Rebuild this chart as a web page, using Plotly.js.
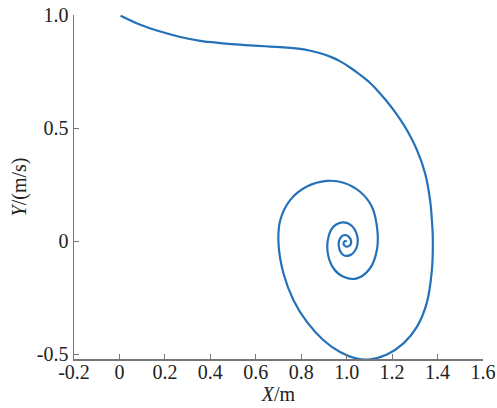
<!DOCTYPE html>
<html>
<head>
<meta charset="utf-8">
<script src="https://cdn.plot.ly/plotly-3.0.1.min.js"></script>
<style>
  html, body { margin: 0; padding: 0; background: #fff; }
  #graph { width: 497px; height: 408px; }
</style>
</head>
<body>
<div id="graph"></div>
<script>
// phase trajectory
var xs = [0.005, 0.092, 0.180, 0.268, 0.356, 0.444, 0.510, 0.576, 0.642, 0.708, 0.752, 0.796, 0.840, 0.884,
  0.930, 0.972, 1.015, 1.059, 1.100, 1.133, 1.170, 1.206, 1.237, 1.265, 1.309, 1.345, 1.367, 1.375, 1.379,
  1.375, 1.352, 1.309, 1.250, 1.177, 1.103, 1.045, 0.971,
  0.898, 0.825, 0.766, 0.722, 0.700, 0.708, 0.752, 0.825, 0.913, 0.986, 1.059, 1.111, 1.135, 1.133, 1.103,
  1.045, 0.986, 0.942, 0.917, 0.920, 0.942, 0.986, 1.023, 1.047, 1.042, 1.015, 0.986, 0.967, 0.971, 0.993,
  1.015, 1.018, 1.001, 0.986, 0.993, 1.001];
var ys = [0.997, 0.957, 0.927, 0.903, 0.886, 0.876, 0.870, 0.866, 0.862, 0.858, 0.855, 0.850, 0.842, 0.831,
  0.815, 0.795, 0.768, 0.736, 0.703, 0.669, 0.627, 0.581, 0.537, 0.492, 0.404, 0.301, 0.183, 0.094, 0.020,
  -0.127, -0.274, -0.378, -0.451, -0.500, -0.521, -0.518, -0.489,
  -0.437, -0.356, -0.260, -0.142, -0.009, 0.094, 0.183, 0.242, 0.267, 0.259, 0.219, 0.153, 0.050, -0.038, -0.119,
  -0.164, -0.157, -0.119, -0.053, 0.020, 0.065, 0.084, 0.068, 0.020, -0.031, -0.061, -0.061, -0.031, 0.013, 0.028,
  0.013, -0.012, -0.024, -0.012, 0.001, -0.001];

var xTicks = [-0.2, 0, 0.2, 0.4, 0.6, 0.8, 1.0, 1.2, 1.4, 1.6];
var xTickText = ['-0.2', '0', '0.2', '0.4', '0.6', '0.8', '1.0', '1.2', '1.4', '1.6'];
var yTicks = [-0.5, 0, 0.5, 1.0];
var yTickText = ['-0.5', '0', '0.5', '1.0'];

var data = [{
  x: xs,
  y: ys,
  mode: 'lines',
  line: { color: '#2372b9', width: 2.2, shape: 'spline', smoothing: 1 },
  hoverinfo: 'skip'
}];

var axisFont = { family: 'Liberation Serif', size: 20, color: '#222' };

var layout = {
  width: 497,
  height: 408,
  margin: { l: 74, r: 14, t: 15, b: 49 },
  paper_bgcolor: '#fff',
  plot_bgcolor: '#fff',
  showlegend: false,
  font: axisFont,
  xaxis: {
    range: [-0.2, 1.6],
    tickvals: xTicks,
    ticktext: xTickText,
    ticks: 'inside',
    ticklen: 5,
    tickwidth: 1,
    tickcolor: '#777',
    ticklabelstandoff: -6,
    showline: true,
    linecolor: '#777',
    linewidth: 1.5,
    showgrid: false,
    zeroline: false,
    tickfont: axisFont,
    title: { text: '<i>X</i>/m', font: axisFont, standoff: 5 }
  },
  yaxis: {
    range: [-0.52, 1.0],
    tickvals: yTicks,
    ticktext: yTickText,
    ticks: 'inside',
    ticklen: 5,
    tickwidth: 1,
    tickcolor: '#777',
    showline: true,
    linecolor: '#777',
    linewidth: 1.5,
    showgrid: false,
    zeroline: false,
    tickfont: axisFont,
    title: { text: '<i>Y</i>/(m/s)', font: axisFont, standoff: 5 }
  }
};

Plotly.newPlot('graph', data, layout, { staticPlot: true });
</script>
</body>
</html>
